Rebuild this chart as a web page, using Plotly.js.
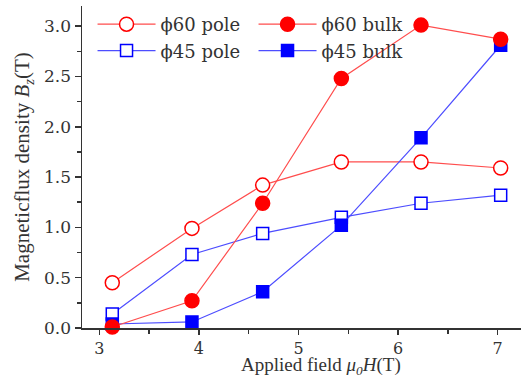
<!DOCTYPE html>
<html>
<head>
<meta charset="utf-8">
<script src="https://cdn.plot.ly/plotly-3.0.1.min.js"></script>
<style>html,body{margin:0;padding:0;background:#fff;}#chart{width:521px;height:381px;}</style>
</head>
<body>
<div id="chart"></div>
<script>
var fieldT = [3.13, 3.93, 4.64, 5.43, 6.23, 7.03];
var phi60Pole = [0.45, 0.99, 1.42, 1.65, 1.65, 1.59];
var phi60Bulk = [0.01, 0.27, 1.24, 2.48, 3.01, 2.87];
var phi45Pole = [0.14, 0.73, 0.94, 1.10, 1.24, 1.32];
var phi45Bulk = [0.04, 0.06, 0.36, 1.02, 1.89, 2.81];
var seriesNames = ['\u03d560 pole', '\u03d560 bulk', '\u03d545 pole', '\u03d545 bulk'];

var RED = '#ff0000', REDL = '#ff4d4d', BLUE = '#0000ff', BLUEL = '#4d4dff';

function tr(name, y, lineC, mColor, mLine, sym, size, rank) {
  return {
    x: fieldT, y: y, name: name, type: 'scatter', mode: 'lines+markers',
    line: {color: lineC, width: 1.2},
    marker: {symbol: sym, size: size, color: mColor, line: {color: mLine, width: 1.5}},
    cliponaxis: false, legendrank: rank
  };
}
var data = [
  tr(seriesNames[0], phi60Pole, REDL, '#ffffff', RED, 'circle', 14, 1),
  tr(seriesNames[2], phi45Pole, BLUEL, '#ffffff', BLUE, 'square', 12, 3),
  tr(seriesNames[3], phi45Bulk, BLUEL, BLUE, BLUE, 'square', 12, 4),
  tr(seriesNames[1], phi60Bulk, REDL, RED, RED, 'circle', 14, 2)
];

var tickFont = {family: 'DejaVu Serif', size: 17, color: '#333333'};
var xTickFont = {family: 'DejaVu Serif', size: 16, color: '#333333'};
var layout = {
  width: 521, height: 381,
  margin: {l: 82, r: 0, t: 6, b: 53},
  paper_bgcolor: '#ffffff', plot_bgcolor: '#ffffff',
  showlegend: true,
  legend: {
    orientation: 'h', x: 0.024, y: 1.0, xanchor: 'left', yanchor: 'top',
    bgcolor: 'rgba(0,0,0,0)', font: {family: 'DejaVu Serif', size: 18, color: '#333333'},
    entrywidth: 88, itemwidth: 58, tracegroupgap: 0
  },
  xaxis: {
    range: [2.826, 7.234], showgrid: false, zeroline: false,
    showline: true, linecolor: '#333333', linewidth: 1.5,
    ticks: 'outside', ticklen: 5, tickwidth: 1.5, tickcolor: '#333333',
    tickvals: [3, 4, 5, 6, 7], ticktext: ['3', '4', '5', '6', '7'],
    minor: {dtick: 0.5, ticks: 'outside', ticklen: 4, tickwidth: 1.5, tickcolor: '#333333'},
    tickfont: xTickFont
  },
  yaxis: {
    range: [0, 3.2], showgrid: false, zeroline: false,
    showline: true, linecolor: '#333333', linewidth: 1.5,
    ticks: 'outside', ticklen: 6, tickwidth: 1.5, tickcolor: '#333333',
    tickvals: [0, 0.5, 1, 1.5, 2, 2.5, 3], ticktext: ['0.0', '0.5', '1.0', '1.5', '2.0', '2.5', '3.0'],
    minor: {dtick: 0.25, ticks: 'outside', ticklen: 4, tickwidth: 1.5, tickcolor: '#333333'},
    tickfont: tickFont,
    title: {text: 'Magneticflux density <i>B</i><sub><i>z</i></sub>(T)', font: {family: 'Liberation Serif', size: 21, color: '#333333'}, standoff: 8}
  },
  annotations: [{
    xref: 'paper', yref: 'paper', x: 0.545, y: -0.162, xanchor: 'center', yanchor: 'bottom',
    text: 'Applied field <i>\u03bc</i><sub><i>0</i></sub><i>H</i>(T)', showarrow: false,
    font: {family: 'Liberation Serif', size: 19, color: '#333333'}
  }]
};
Plotly.newPlot('chart', data, layout, {displayModeBar: false, staticPlot: true});
</script>
</body>
</html>
